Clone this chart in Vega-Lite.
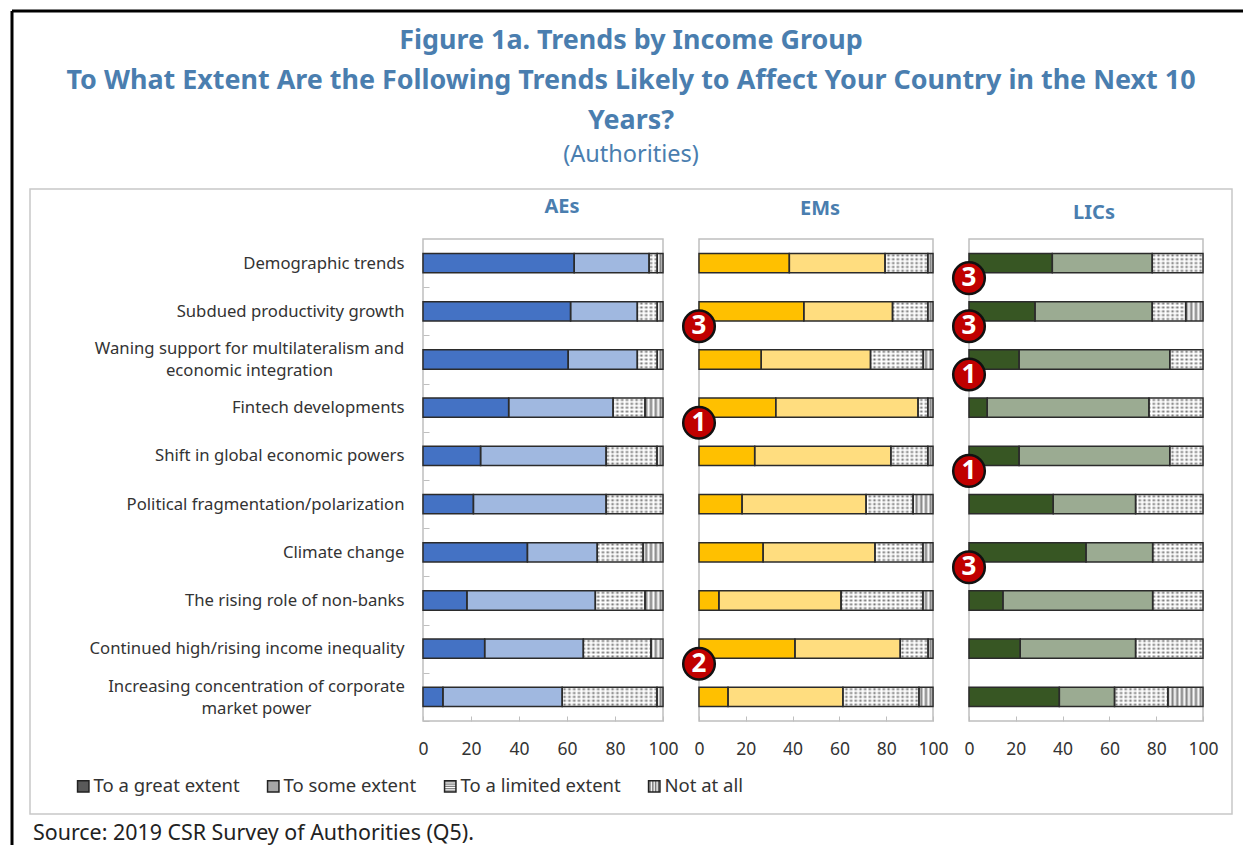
{"$schema":"https://vega.github.io/schema/vega-lite/v6.json","background":"white","padding":{"left":9,"top":8,"right":0,"bottom":0},"bounds":"flush",
"params":[
{"name":"dots","value":{"gradient":"linear","x1":0,"y1":0,"x2":0,"y2":1,"stops":[{"offset":0,"color":"#ffffff"},{"offset":0.1,"color":"#707070"},{"offset":0.2,"color":"#ffffff"},{"offset":0.3,"color":"#707070"},{"offset":0.4,"color":"#ffffff"},{"offset":0.5,"color":"#707070"},{"offset":0.6,"color":"#ffffff"},{"offset":0.7,"color":"#707070"},{"offset":0.8,"color":"#ffffff"},{"offset":0.9,"color":"#707070"},{"offset":1,"color":"#ffffff"}]}},
{"name":"keyStripes","value":{"gradient":"linear","x1":0,"y1":0,"x2":1,"y2":0,"stops":[{"offset":0,"color":"#ffffff"},{"offset":0.125,"color":"#666666"},{"offset":0.25,"color":"#ffffff"},{"offset":0.375,"color":"#666666"},{"offset":0.5,"color":"#ffffff"},{"offset":0.625,"color":"#666666"},{"offset":0.75,"color":"#ffffff"},{"offset":0.875,"color":"#666666"},{"offset":1,"color":"#ffffff"}]}},
{"name":"hatch","value":{"gradient":"linear","x1":0,"y1":0,"x2":1,"y2":0,"stops":[{"offset":0,"color":"#fff"},{"offset":0.01,"color":"rgba(255,255,255,0)"},{"offset":0.02,"color":"#fff"},{"offset":0.03,"color":"rgba(255,255,255,0)"},{"offset":0.04,"color":"#fff"},{"offset":0.05,"color":"rgba(255,255,255,0)"},{"offset":0.06,"color":"#fff"},{"offset":0.07,"color":"rgba(255,255,255,0)"},{"offset":0.08,"color":"#fff"},{"offset":0.09,"color":"rgba(255,255,255,0)"},{"offset":0.1,"color":"#fff"},{"offset":0.11,"color":"rgba(255,255,255,0)"},{"offset":0.12,"color":"#fff"},{"offset":0.13,"color":"rgba(255,255,255,0)"},{"offset":0.14,"color":"#fff"},{"offset":0.15,"color":"rgba(255,255,255,0)"},{"offset":0.16,"color":"#fff"},{"offset":0.17,"color":"rgba(255,255,255,0)"},{"offset":0.18,"color":"#fff"},{"offset":0.19,"color":"rgba(255,255,255,0)"},{"offset":0.2,"color":"#fff"},{"offset":0.21,"color":"rgba(255,255,255,0)"},{"offset":0.22,"color":"#fff"},{"offset":0.23,"color":"rgba(255,255,255,0)"},{"offset":0.24,"color":"#fff"},{"offset":0.25,"color":"rgba(255,255,255,0)"},{"offset":0.26,"color":"#fff"},{"offset":0.27,"color":"rgba(255,255,255,0)"},{"offset":0.28,"color":"#fff"},{"offset":0.29,"color":"rgba(255,255,255,0)"},{"offset":0.3,"color":"#fff"},{"offset":0.31,"color":"rgba(255,255,255,0)"},{"offset":0.32,"color":"#fff"},{"offset":0.33,"color":"rgba(255,255,255,0)"},{"offset":0.34,"color":"#fff"},{"offset":0.35,"color":"rgba(255,255,255,0)"},{"offset":0.36,"color":"#fff"},{"offset":0.37,"color":"rgba(255,255,255,0)"},{"offset":0.38,"color":"#fff"},{"offset":0.39,"color":"rgba(255,255,255,0)"},{"offset":0.4,"color":"#fff"},{"offset":0.41,"color":"rgba(255,255,255,0)"},{"offset":0.42,"color":"#fff"},{"offset":0.43,"color":"rgba(255,255,255,0)"},{"offset":0.44,"color":"#fff"},{"offset":0.45,"color":"rgba(255,255,255,0)"},{"offset":0.46,"color":"#fff"},{"offset":0.47,"color":"rgba(255,255,255,0)"},{"offset":0.48,"color":"#fff"},{"offset":0.49,"color":"rgba(255,255,255,0)"},{"offset":0.5,"color":"#fff"},{"offset":0.51,"color":"rgba(255,255,255,0)"},{"offset":0.52,"color":"#fff"},{"offset":0.53,"color":"rgba(255,255,255,0)"},{"offset":0.54,"color":"#fff"},{"offset":0.55,"color":"rgba(255,255,255,0)"},{"offset":0.56,"color":"#fff"},{"offset":0.57,"color":"rgba(255,255,255,0)"},{"offset":0.58,"color":"#fff"},{"offset":0.59,"color":"rgba(255,255,255,0)"},{"offset":0.6,"color":"#fff"},{"offset":0.61,"color":"rgba(255,255,255,0)"},{"offset":0.62,"color":"#fff"},{"offset":0.63,"color":"rgba(255,255,255,0)"},{"offset":0.64,"color":"#fff"},{"offset":0.65,"color":"rgba(255,255,255,0)"},{"offset":0.66,"color":"#fff"},{"offset":0.67,"color":"rgba(255,255,255,0)"},{"offset":0.68,"color":"#fff"},{"offset":0.69,"color":"rgba(255,255,255,0)"},{"offset":0.7,"color":"#fff"},{"offset":0.71,"color":"rgba(255,255,255,0)"},{"offset":0.72,"color":"#fff"},{"offset":0.73,"color":"rgba(255,255,255,0)"},{"offset":0.74,"color":"#fff"},{"offset":0.75,"color":"rgba(255,255,255,0)"},{"offset":0.76,"color":"#fff"},{"offset":0.77,"color":"rgba(255,255,255,0)"},{"offset":0.78,"color":"#fff"},{"offset":0.79,"color":"rgba(255,255,255,0)"},{"offset":0.8,"color":"#fff"},{"offset":0.81,"color":"rgba(255,255,255,0)"},{"offset":0.82,"color":"#fff"},{"offset":0.83,"color":"rgba(255,255,255,0)"},{"offset":0.84,"color":"#fff"},{"offset":0.85,"color":"rgba(255,255,255,0)"},{"offset":0.86,"color":"#fff"},{"offset":0.87,"color":"rgba(255,255,255,0)"},{"offset":0.88,"color":"#fff"},{"offset":0.89,"color":"rgba(255,255,255,0)"},{"offset":0.9,"color":"#fff"},{"offset":0.91,"color":"rgba(255,255,255,0)"},{"offset":0.92,"color":"#fff"},{"offset":0.93,"color":"rgba(255,255,255,0)"},{"offset":0.94,"color":"#fff"},{"offset":0.95,"color":"rgba(255,255,255,0)"},{"offset":0.96,"color":"#fff"},{"offset":0.97,"color":"rgba(255,255,255,0)"},{"offset":0.98,"color":"#fff"},{"offset":0.99,"color":"rgba(255,255,255,0)"},{"offset":1,"color":"#fff"}]}}
],
"title":{"text":["Figure 1a. Trends by Income Group","To What Extent Are the Following Trends Likely to Affect Your Country in the Next 10","Years?"],"subtitle":"(Authorities)","anchor":"middle","frame":"group","orient":"top","offset":-159,"dx":208,"font":"Noto Sans","fontSize":26.9,"fontWeight":"bold","color":"#4A7EAF","lineHeight":40,"subtitleFont":"Noto Sans","subtitleFontSize":23.5,"subtitleFontWeight":"normal","subtitleColor":"#4A7EAF","subtitlePadding":8},
"datasets":{"bars":[
{"panel":"AEs","trend":"Demographic trends","great":63,"some":31.2,"limited":3.4,"none":2.4},
{"panel":"AEs","trend":"Subdued productivity growth","great":61.5,"some":27.8,"limited":8.3,"none":2.4},
{"panel":"AEs","trend":"Waning support for multilateralism and economic integration","great":60.5,"some":28.8,"limited":8.3,"none":2.4},
{"panel":"AEs","trend":"Fintech developments","great":35.7,"some":43.5,"limited":13.3,"none":7.5},
{"panel":"AEs","trend":"Shift in global economic powers","great":24,"some":52.3,"limited":21.2,"none":2.5},
{"panel":"AEs","trend":"Political fragmentation/polarization","great":21,"some":55.3,"limited":23.7,"none":0},
{"panel":"AEs","trend":"Climate change","great":43.5,"some":29.1,"limited":19.1,"none":8.3},
{"panel":"AEs","trend":"The rising role of non-banks","great":18.3,"some":53.5,"limited":20.7,"none":7.5},
{"panel":"AEs","trend":"Continued high/rising income inequality","great":25.7,"some":41.1,"limited":28.2,"none":5},
{"panel":"AEs","trend":"Increasing concentration of corporate market power","great":8.3,"some":49.7,"limited":39.5,"none":2.5},
{"panel":"EMs","trend":"Demographic trends","great":38.6,"some":40.9,"limited":18.3,"none":2.2},
{"panel":"EMs","trend":"Subdued productivity growth","great":44.8,"some":37.9,"limited":15.1,"none":2.2},
{"panel":"EMs","trend":"Waning support for multilateralism and economic integration","great":26.6,"some":46.7,"limited":22.5,"none":4.2},
{"panel":"EMs","trend":"Fintech developments","great":32.8,"some":60.8,"limited":4.2,"none":2.2},
{"panel":"EMs","trend":"Shift in global economic powers","great":23.8,"some":58.2,"limited":15.8,"none":2.2},
{"panel":"EMs","trend":"Political fragmentation/polarization","great":18.4,"some":53,"limited":20.1,"none":8.5},
{"panel":"EMs","trend":"Climate change","great":27.4,"some":47.8,"limited":20.5,"none":4.3},
{"panel":"EMs","trend":"The rising role of non-banks","great":8.5,"some":52.2,"limited":35,"none":4.3},
{"panel":"EMs","trend":"Continued high/rising income inequality","great":41,"some":45,"limited":11.9,"none":2.1},
{"panel":"EMs","trend":"Increasing concentration of corporate market power","great":12.4,"some":49.1,"limited":32.5,"none":6},
{"panel":"LICs","trend":"Demographic trends","great":35.6,"some":42.7,"limited":21.7,"none":0},
{"panel":"LICs","trend":"Subdued productivity growth","great":28.2,"some":50.1,"limited":14.3,"none":7.4},
{"panel":"LICs","trend":"Waning support for multilateralism and economic integration","great":21.4,"some":64.4,"limited":14.2,"none":0},
{"panel":"LICs","trend":"Fintech developments","great":7.8,"some":69.1,"limited":23.1,"none":0},
{"panel":"LICs","trend":"Shift in global economic powers","great":21.4,"some":64.4,"limited":14.2,"none":0},
{"panel":"LICs","trend":"Political fragmentation/polarization","great":36,"some":35.2,"limited":28.8,"none":0},
{"panel":"LICs","trend":"Climate change","great":50,"some":28.5,"limited":21.5,"none":0},
{"panel":"LICs","trend":"The rising role of non-banks","great":14.5,"some":64,"limited":21.5,"none":0},
{"panel":"LICs","trend":"Continued high/rising income inequality","great":21.9,"some":49.3,"limited":28.8,"none":0},
{"panel":"LICs","trend":"Increasing concentration of corporate market power","great":38.6,"some":23.6,"limited":22.8,"none":15}
],
"badges":[
{"panel":"EMs","trend":"Subdued productivity growth","rank":"3"},
{"panel":"EMs","trend":"Fintech developments","rank":"1"},
{"panel":"EMs","trend":"Continued high/rising income inequality","rank":"2"},
{"panel":"LICs","trend":"Demographic trends","rank":"3"},
{"panel":"LICs","trend":"Subdued productivity growth","rank":"3"},
{"panel":"LICs","trend":"Waning support for multilateralism and economic integration","rank":"1"},
{"panel":"LICs","trend":"Shift in global economic powers","rank":"1"},
{"panel":"LICs","trend":"Climate change","rank":"3"}
]},
"spacing":36,
"hconcat":[
{"width":240,"height":482,"title":{"text":"AEs","dx":19,"offset":-207},
"layer":[
{"data":{"values":[{"frame":"outer"}]},"mark":{"type":"rect","fill":"transparent","stroke":"#c8c8c8","strokeWidth":1.5},"encoding":{"x":{"value":-393},"x2":{"value":809},"y":{"value":-50},"y2":{"value":575}}},
{"data":{"values":[{"frame":"left"}]},"mark":{"type":"rule","stroke":"black","strokeWidth":3},"encoding":{"x":{"value":-411},"y":{"value":-228},"y2":{"value":607}}},
{"data":{"values":[{"frame":"top"}]},"mark":{"type":"rule","stroke":"black","strokeWidth":3},"encoding":{"x":{"value":-411},"x2":{"value":821},"y":{"value":-228}}},
{"data":{"values":[{"source":"Source: 2019 CSR Survey of Authorities (Q5)."}]},"mark":{"type":"text","align":"left","baseline":"middle","font":"Noto Sans","fontSize":21.4,"color":"#222222"},"encoding":{"text":{"field":"source"},"x":{"value":-390},"y":{"value":595}}},
{"data":{"name":"bars"},
"transform":[{"filter":"datum.panel=='AEs'"},{"fold":["great","some","limited","none"],"as":["extent","value"]},{"calculate":"indexof(['great','some','limited','none'],datum.extent)","as":"k"},{"calculate":"{great:'To a great extent',some:'To some extent',limited:'To a limited extent',none:'Not at all'}[datum.extent]","as":"Extent"},{"stack":"value","groupby":["trend"],"sort":[{"field":"k"}],"as":["x0","x1"]}],
"encoding":{"y":{"field":"trend","type":"nominal","title":null,"scale":{"domain":["Demographic trends","Subdued productivity growth","Waning support for multilateralism and economic integration","Fintech developments","Shift in global economic powers","Political fragmentation/polarization","Climate change","The rising role of non-banks","Continued high/rising income inequality","Increasing concentration of corporate market power"],"paddingInner":0.6,"paddingOuter":0.3},"axis":{"domain":false,"ticks":true,"tickSize":-6,"tickColor":"#bfbfbf","tickOffset":24.1,"labelOffset":{"condition":{"test":"indexof(datum.value,'Waning')==0||indexof(datum.value,'Increasing')==0","value":-35},"value":-24.1},"labelAlign":{"condition":{"test":"indexof(datum.value,'Waning')==0||indexof(datum.value,'Increasing')==0","value":"center"},"value":"right"},"labelPadding":{"condition":[{"test":"indexof(datum.value,'Waning')==0","value":180},{"test":"indexof(datum.value,'Increasing')==0","value":173}],"value":25},"labelFont":"Noto Sans","labelFontSize":16.7,"labelColor":"#333333","labelLimit":330,"labelLineHeight":22,"labelExpr":"datum.value=='Waning support for multilateralism and economic integration'?['Waning support for multilateralism and','economic integration']:datum.value=='Increasing concentration of corporate market power'?['Increasing concentration of corporate','market power']:datum.value"}},"x":{"field":"x0","type":"quantitative","title":null,"scale":{"domain":[0,100],"nice":false},"axis":{"domain":false,"grid":false,"values":[0,20,40,60,80,100],"tickSize":-5,"tickColor":"#bfbfbf","labelPadding":24,"labelFont":"Noto Sans","labelFontSize":17.5,"labelColor":"#333333","labelFlush":false}},"x2":{"field":"x1"}},
"layer":[
{"mark":{"type":"bar"},"encoding":{"fill":{"field":"Extent","type":"nominal","sort":["To a great extent","To some extent","To a limited extent","Not at all"],"scale":{"domain":["To a great extent","To some extent","To a limited extent","Not at all"],"range":["#595959","#A6A6A6",{"expr":"dots"},{"expr":"keyStripes"}]},"legend":{"title":null,"orient":"none","legendX":-349,"legendY":538,"direction":"horizontal","columns":4,"symbolType":"square","symbolSize":130,"symbolStrokeColor":"#222222","symbolStrokeWidth":1.5,"labelFont":"Noto Sans","labelFontSize":18.5,"labelColor":"#333333","labelOffset":1,"columnPadding":24,"labelLimit":200}}}},
{"transform":[{"filter":"datum.extent=='limited'"}],"mark":{"type":"bar","fill":{"expr":"dots"}}},
{"transform":[{"filter":"datum.extent=='none'"}],"mark":{"type":"bar","fill":"#808080"}},
{"transform":[{"filter":"datum.extent=='great'"}],"mark":{"type":"bar","fill":{"expr":"hatch"}},"encoding":{"x":{"datum":0},"x2":{"datum":100}}},
{"transform":[{"filter":"datum.extent=='great'"}],"mark":{"type":"bar","fill":"#4472C4"}},
{"transform":[{"filter":"datum.extent=='some'"}],"mark":{"type":"bar","fill":"#A0B8E0"}},
{"transform":[{"filter":"datum.value>0"}],"mark":{"type":"bar","fill":"transparent","stroke":"#2b2b2b","strokeWidth":1.5}}
]}]},
{"width":234,"height":482,"title":{"text":"EMs","dx":4,"offset":20},
"layer":[
{"data":{"name":"bars"},
"transform":[{"filter":"datum.panel=='EMs'"},{"fold":["great","some","limited","none"],"as":["extent","value"]},{"calculate":"indexof(['great','some','limited','none'],datum.extent)","as":"k"},{"stack":"value","groupby":["trend"],"sort":[{"field":"k"}],"as":["x0","x1"]}],
"encoding":{"y":{"field":"trend","type":"nominal","axis":null,"scale":{"domain":["Demographic trends","Subdued productivity growth","Waning support for multilateralism and economic integration","Fintech developments","Shift in global economic powers","Political fragmentation/polarization","Climate change","The rising role of non-banks","Continued high/rising income inequality","Increasing concentration of corporate market power"],"paddingInner":0.6,"paddingOuter":0.3}},"x":{"field":"x0","type":"quantitative","title":null,"scale":{"domain":[0,100],"nice":false},"axis":{"domain":false,"grid":false,"values":[0,20,40,60,80,100],"tickSize":-5,"tickColor":"#bfbfbf","labelPadding":24,"labelFont":"Noto Sans","labelFontSize":17.5,"labelColor":"#333333","labelFlush":false}},"x2":{"field":"x1"}},
"layer":[
{"transform":[{"filter":"datum.extent=='limited'"}],"mark":{"type":"bar","fill":{"expr":"dots"}}},
{"transform":[{"filter":"datum.extent=='none'"}],"mark":{"type":"bar","fill":"#808080"}},
{"transform":[{"filter":"datum.extent=='great'"}],"mark":{"type":"bar","fill":{"expr":"hatch"}},"encoding":{"x":{"datum":0},"x2":{"datum":100}}},
{"transform":[{"filter":"datum.extent=='great'"}],"mark":{"type":"bar","fill":"#FFC000"}},
{"transform":[{"filter":"datum.extent=='some'"}],"mark":{"type":"bar","fill":"#FFDD7F"}},
{"transform":[{"filter":"datum.value>0"}],"mark":{"type":"bar","fill":"transparent","stroke":"#2b2b2b","strokeWidth":1.5}}
]},
{"data":{"name":"badges"},"transform":[{"filter":"datum.panel=='EMs'"}],"mark":{"type":"point","filled":true,"fill":"#C00000","stroke":"#111111","strokeWidth":2.5,"opacity":1,"size":1000,"yOffset":15},"encoding":{"x":{"datum":0},"y":{"field":"trend","type":"nominal"}}},
{"data":{"name":"badges"},"transform":[{"filter":"datum.panel=='EMs'"}],"mark":{"type":"text","font":"Noto Sans","fontWeight":"bold","fontSize":26,"color":"white","yOffset":15},"encoding":{"x":{"datum":0},"y":{"field":"trend","type":"nominal"},"text":{"field":"rank"}}}
]},
{"width":234,"height":482,"title":{"text":"LICs","dx":8,"offset":16},
"layer":[
{"data":{"name":"bars"},
"transform":[{"filter":"datum.panel=='LICs'"},{"fold":["great","some","limited","none"],"as":["extent","value"]},{"calculate":"indexof(['great','some','limited','none'],datum.extent)","as":"k"},{"stack":"value","groupby":["trend"],"sort":[{"field":"k"}],"as":["x0","x1"]}],
"encoding":{"y":{"field":"trend","type":"nominal","axis":null,"scale":{"domain":["Demographic trends","Subdued productivity growth","Waning support for multilateralism and economic integration","Fintech developments","Shift in global economic powers","Political fragmentation/polarization","Climate change","The rising role of non-banks","Continued high/rising income inequality","Increasing concentration of corporate market power"],"paddingInner":0.6,"paddingOuter":0.3}},"x":{"field":"x0","type":"quantitative","title":null,"scale":{"domain":[0,100],"nice":false},"axis":{"domain":false,"grid":false,"values":[0,20,40,60,80,100],"tickSize":-5,"tickColor":"#bfbfbf","labelPadding":24,"labelFont":"Noto Sans","labelFontSize":17.5,"labelColor":"#333333","labelFlush":false}},"x2":{"field":"x1"}},
"layer":[
{"transform":[{"filter":"datum.extent=='limited'"}],"mark":{"type":"bar","fill":{"expr":"dots"}}},
{"transform":[{"filter":"datum.extent=='none'"}],"mark":{"type":"bar","fill":"#808080"}},
{"transform":[{"filter":"datum.extent=='great'"}],"mark":{"type":"bar","fill":{"expr":"hatch"}},"encoding":{"x":{"datum":0},"x2":{"datum":100}}},
{"transform":[{"filter":"datum.extent=='great'"}],"mark":{"type":"bar","fill":"#375623"}},
{"transform":[{"filter":"datum.extent=='some'"}],"mark":{"type":"bar","fill":"#9BAB92"}},
{"transform":[{"filter":"datum.value>0"}],"mark":{"type":"bar","fill":"transparent","stroke":"#2b2b2b","strokeWidth":1.5}}
]},
{"data":{"name":"badges"},"transform":[{"filter":"datum.panel=='LICs'"}],"mark":{"type":"point","filled":true,"fill":"#C00000","stroke":"#111111","strokeWidth":2.5,"opacity":1,"size":1000,"yOffset":15},"encoding":{"x":{"datum":0},"y":{"field":"trend","type":"nominal"}}},
{"data":{"name":"badges"},"transform":[{"filter":"datum.panel=='LICs'"}],"mark":{"type":"text","font":"Noto Sans","fontWeight":"bold","fontSize":26,"color":"white","yOffset":15},"encoding":{"x":{"datum":0},"y":{"field":"trend","type":"nominal"},"text":{"field":"rank"}}}
]}
],
"config":{"view":{"stroke":"#bfbfbf","strokeWidth":1.5},"title":{"font":"Noto Sans","fontSize":20,"fontWeight":"bold","color":"#4A7EAF","anchor":"middle"}}}
